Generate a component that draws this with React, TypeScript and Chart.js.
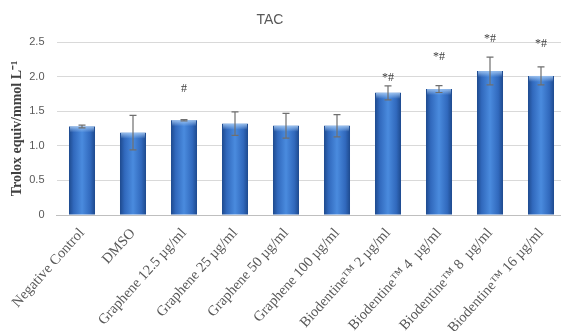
import React, { useEffect, useRef } from "react";
import { Chart, registerables } from "chart.js";

Chart.register(...registerables);

const categories = [
  "Negative Control",
  "DMSO",
  "Graphene 12.5 µg/ml",
  "Graphene 25 µg/ml",
  "Graphene 50 µg/ml",
  "Graphene 100 µg/ml",
  "Biodentine™ 2 µg/ml",
  "Biodentine™ 4  µg/ml",
  "Biodentine™ 8  µg/ml",
  "Biodentine™ 16 µg/ml",
];
const tacValues = [1.28, 1.19, 1.37, 1.32, 1.29, 1.29, 1.765, 1.82, 2.08, 2.01];
const tacErrors = [0.02, 0.25, 0.01, 0.17, 0.18, 0.16, 0.1, 0.05, 0.2, 0.13];
const sigLabels = ["", "", "#", "", "", "", "*#", "*#", "*#", "*#"];
const sigLabelY = [0, 0, 1.83, 0, 0, 0, 1.98, 2.28, 2.55, 2.47];
const yTicks = [0, 0.5, 1, 1.5, 2, 2.5];

const chartTitle = "TAC";
const yTitle = "Trolox equiv/mmol L⁻¹";

export default function App() {
  const ref = useRef<HTMLCanvasElement | null>(null);

  useEffect(() => {
    if (!ref.current) return;

    const extras = {
      id: "extras",
      afterDatasetsDraw(chart: any) {
        const { ctx } = chart;
        const xs = chart.scales.x;
        const ys = chart.scales.y;
        const w = (xs.width / categories.length) * 0.51;
        ctx.save();
        // soft highlight at top of each bar
        tacValues.forEach((v, i) => {
          const x = xs.getPixelForValue(i);
          const yTop = ys.getPixelForValue(v);
          const g = ctx.createLinearGradient(0, yTop, 0, yTop + 6);
          g.addColorStop(0, "rgba(170,205,245,0.85)");
          g.addColorStop(1, "rgba(170,205,245,0)");
          ctx.fillStyle = g;
          ctx.fillRect(x - w / 2 + 1, yTop, w - 2, 6);
        });
        ctx.strokeStyle = "#6f6f6f";
        ctx.lineWidth = 1.2;
        tacValues.forEach((v, i) => {
          const x = xs.getPixelForValue(i);
          const yt = ys.getPixelForValue(v + tacErrors[i]);
          const yb = ys.getPixelForValue(v - tacErrors[i]);
          ctx.beginPath();
          ctx.moveTo(x, yt);
          ctx.lineTo(x, yb);
          ctx.moveTo(x - 3.5, yt);
          ctx.lineTo(x + 3.5, yt);
          ctx.moveTo(x - 3.5, yb);
          ctx.lineTo(x + 3.5, yb);
          ctx.stroke();
        });
        ctx.fillStyle = "#404040";
        ctx.font = "12px 'Liberation Serif', serif";
        ctx.textAlign = "center";
        ctx.textBaseline = "middle";
        sigLabels.forEach((s, i) => {
          if (!s) return;
          ctx.fillText(s, xs.getPixelForValue(i), ys.getPixelForValue(sigLabelY[i]));
        });
        ctx.fillStyle = "#595959";
        ctx.font = "14px 'Liberation Sans', sans-serif";
        ctx.fillText(chartTitle, 270, 20);
        ctx.restore();
      },
    };

    const chart = new Chart(ref.current, {
      type: "bar",
      data: {
        labels: categories,
        datasets: [
          {
            data: tacValues,
            backgroundColor: (c: any) => {
              const ch = c.chart;
              const xs = ch.scales && ch.scales.x;
              if (!xs || c.dataIndex == null) return "#3a78c8";
              const x = xs.getPixelForValue(c.dataIndex);
              const w = (xs.width / categories.length) * 0.51;
              if (!isFinite(x) || !isFinite(w) || w <= 0) return "#3a78c8";
              const g = ch.ctx.createLinearGradient(x - w / 2, 0, x + w / 2, 0);
              g.addColorStop(0, "#1e4a8e");
              g.addColorStop(0.18, "#3169bd");
              g.addColorStop(0.5, "#4a8bde");
              g.addColorStop(0.82, "#3169bd");
              g.addColorStop(1, "#1e4a8e");
              return g;
            },
            borderWidth: 0,
            categoryPercentage: 1,
            barPercentage: 0.51,
          },
        ],
      },
      options: {
        animation: false,
        responsive: false,
        devicePixelRatio: 1,
        layout: { padding: { top: 42, right: 8.5, left: 0, bottom: 0 } },
        plugins: {
          legend: { display: false },
          tooltip: { enabled: false },
          title: { display: false },
        },
        scales: {
          x: {
            grid: { display: false, drawTicks: false },
            border: { display: true, color: "#bfbfbf", width: 1 },
            ticks: {
              color: "#595959",
              font: { family: "'Liberation Serif', serif", size: 14.5 },
              minRotation: 48,
              maxRotation: 48,
              autoSkip: false,
              padding: 10,
            },
            afterFit(s: any) {
              s.height = 116;
            },
          },
          y: {
            min: 0,
            max: 2.5,
            afterBuildTicks(s: any) {
              s.ticks = yTicks.map((v) => ({ value: v }));
            },
            grid: { color: "#d9d9d9", drawTicks: false },
            border: { display: false },
            ticks: {
              color: "#595959",
              font: { family: "'Liberation Sans', sans-serif", size: 11 },
              padding: 12,
            },
            title: {
              display: true,
              text: yTitle,
              color: "#404040",
              font: { family: "'Liberation Serif', serif", size: 14, weight: "bold" },
              padding: { top: 9, bottom: 0 },
            },
            afterFit(s: any) {
              s.width = 56.5;
            },
          },
        },
      },
      plugins: [extras],
    });
    chart.update();

    return () => chart.destroy();
  }, []);

  return (
    <div
      style={{
        position: "fixed",
        left: 0,
        top: 0,
        width: 561,
        height: 331,
        overflow: "hidden",
        background: "#ffffff",
      }}
    >
      <canvas ref={ref} width={575} height={331} style={{ width: 575, height: 331 }} />
    </div>
  );
}
